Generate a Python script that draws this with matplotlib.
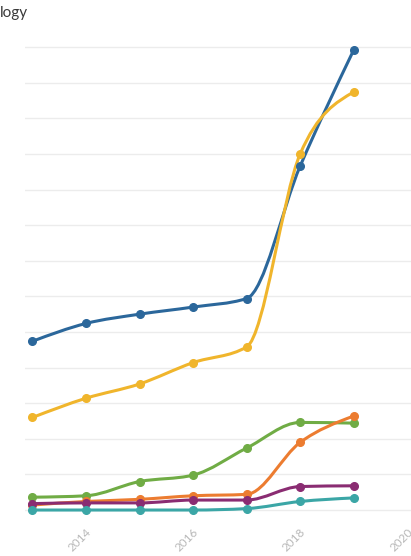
import numpy as np
import matplotlib
matplotlib.use("Agg")
import matplotlib.pyplot as plt
from matplotlib.path import Path
from matplotlib.patches import PathPatch
import matplotlib.transforms as mtransforms

plt.rcParams['font.family'] = ['Lato', 'DejaVu Sans']

years = [2013, 2014, 2015, 2016, 2017, 2018, 2019]
blue = [23.7, 26.2, 27.5, 28.5, 29.7, 48.3, 64.6]
yellow = [13.0, 15.7, 17.7, 20.7, 22.9, 50.0, 58.7]
green = [1.8, 2.0, 4.0, 4.9, 8.7, 12.3, 12.2]
orange = [0.7, 1.2, 1.5, 2.0, 2.2, 9.5, 13.2]
purple = [0.9, 1.0, 1.0, 1.4, 1.4, 3.3, 3.4]
teal = [0.0, 0.0, 0.0, 0.0, 0.2, 1.2, 1.7]

series = [
    (blue, '#2b679b'),
    (yellow, '#f0b52c'),
    (green, '#70ac45'),
    (orange, '#ec7c30'),
    (purple, '#8a2c72'),
    (teal, '#3ba6a6'),
]
tick_years = [2014, 2016, 2018, 2020]


def monotone_tangents(x, y):
    # same rule as d3 curveMonotoneX
    x = np.asarray(x, float)
    y = np.asarray(y, float)
    n = len(x)
    t = np.zeros(n)
    for i in range(1, n - 1):
        h0 = x[i] - x[i - 1]
        h1 = x[i + 1] - x[i]
        s0 = (y[i] - y[i - 1]) / h0
        s1 = (y[i + 1] - y[i]) / h1
        p = (s0 * h1 + s1 * h0) / (h0 + h1)
        t[i] = (np.sign(s0) + np.sign(s1)) * min(abs(s0), abs(s1), 0.5 * abs(p))
    t[0] = (3 * (y[1] - y[0]) / (x[1] - x[0]) - t[1]) / 2
    t[-1] = (3 * (y[-1] - y[-2]) / (x[-1] - x[-2]) - t[-2]) / 2
    return t


def smooth_path(x, y):
    t = monotone_tangents(x, y)
    verts = [(x[0], y[0])]
    codes = [Path.MOVETO]
    for i in range(len(x) - 1):
        dx = (x[i + 1] - x[i]) / 3
        verts += [(x[i] + dx, y[i] + dx * t[i]),
                  (x[i + 1] - dx, y[i + 1] - dx * t[i + 1]),
                  (x[i + 1], y[i + 1])]
        codes += [Path.CURVE4] * 3
    return Path(verts, codes)


fig = plt.figure(figsize=(4.11, 5.56), dpi=100)
ax = fig.add_axes([25 / 411, 38 / 556, 386 / 411, 478 / 556])

ax.set_xlim(2012.86, 2020.07)
ax.set_ylim(-1.12, 66.0)
for v in range(0, 70, 5):
    ax.axhline(v, color='#ececec', lw=1, zorder=0)

for vals, col in series:
    ax.add_patch(PathPatch(smooth_path(years, vals), facecolor='none',
                           edgecolor=col, lw=2.2, capstyle='round',
                           joinstyle='round', zorder=2, clip_on=False))
    ax.plot(years, vals, 'o', color=col, ms=5.5, zorder=3, clip_on=False)

for s in ax.spines.values():
    s.set_visible(False)
ax.set_yticks([])
ax.set_xticks(tick_years)
ax.tick_params(axis='x', length=0, pad=6, labelsize=8.5, labelcolor='#b8b8b8')
offset = mtransforms.ScaledTranslation(-6 / 100, 0, fig.dpi_scale_trans)
for lab in ax.get_xticklabels():
    lab.set_rotation(45)
    lab.set_ha('center')
    lab.set_transform(lab.get_transform() + offset)

fig.text(0.0, 1 - 6 / 556, 'logy', ha='left', va='top', fontsize=11,
         color='#3a3a3a')

fig.savefig('out.png', dpi=100)
